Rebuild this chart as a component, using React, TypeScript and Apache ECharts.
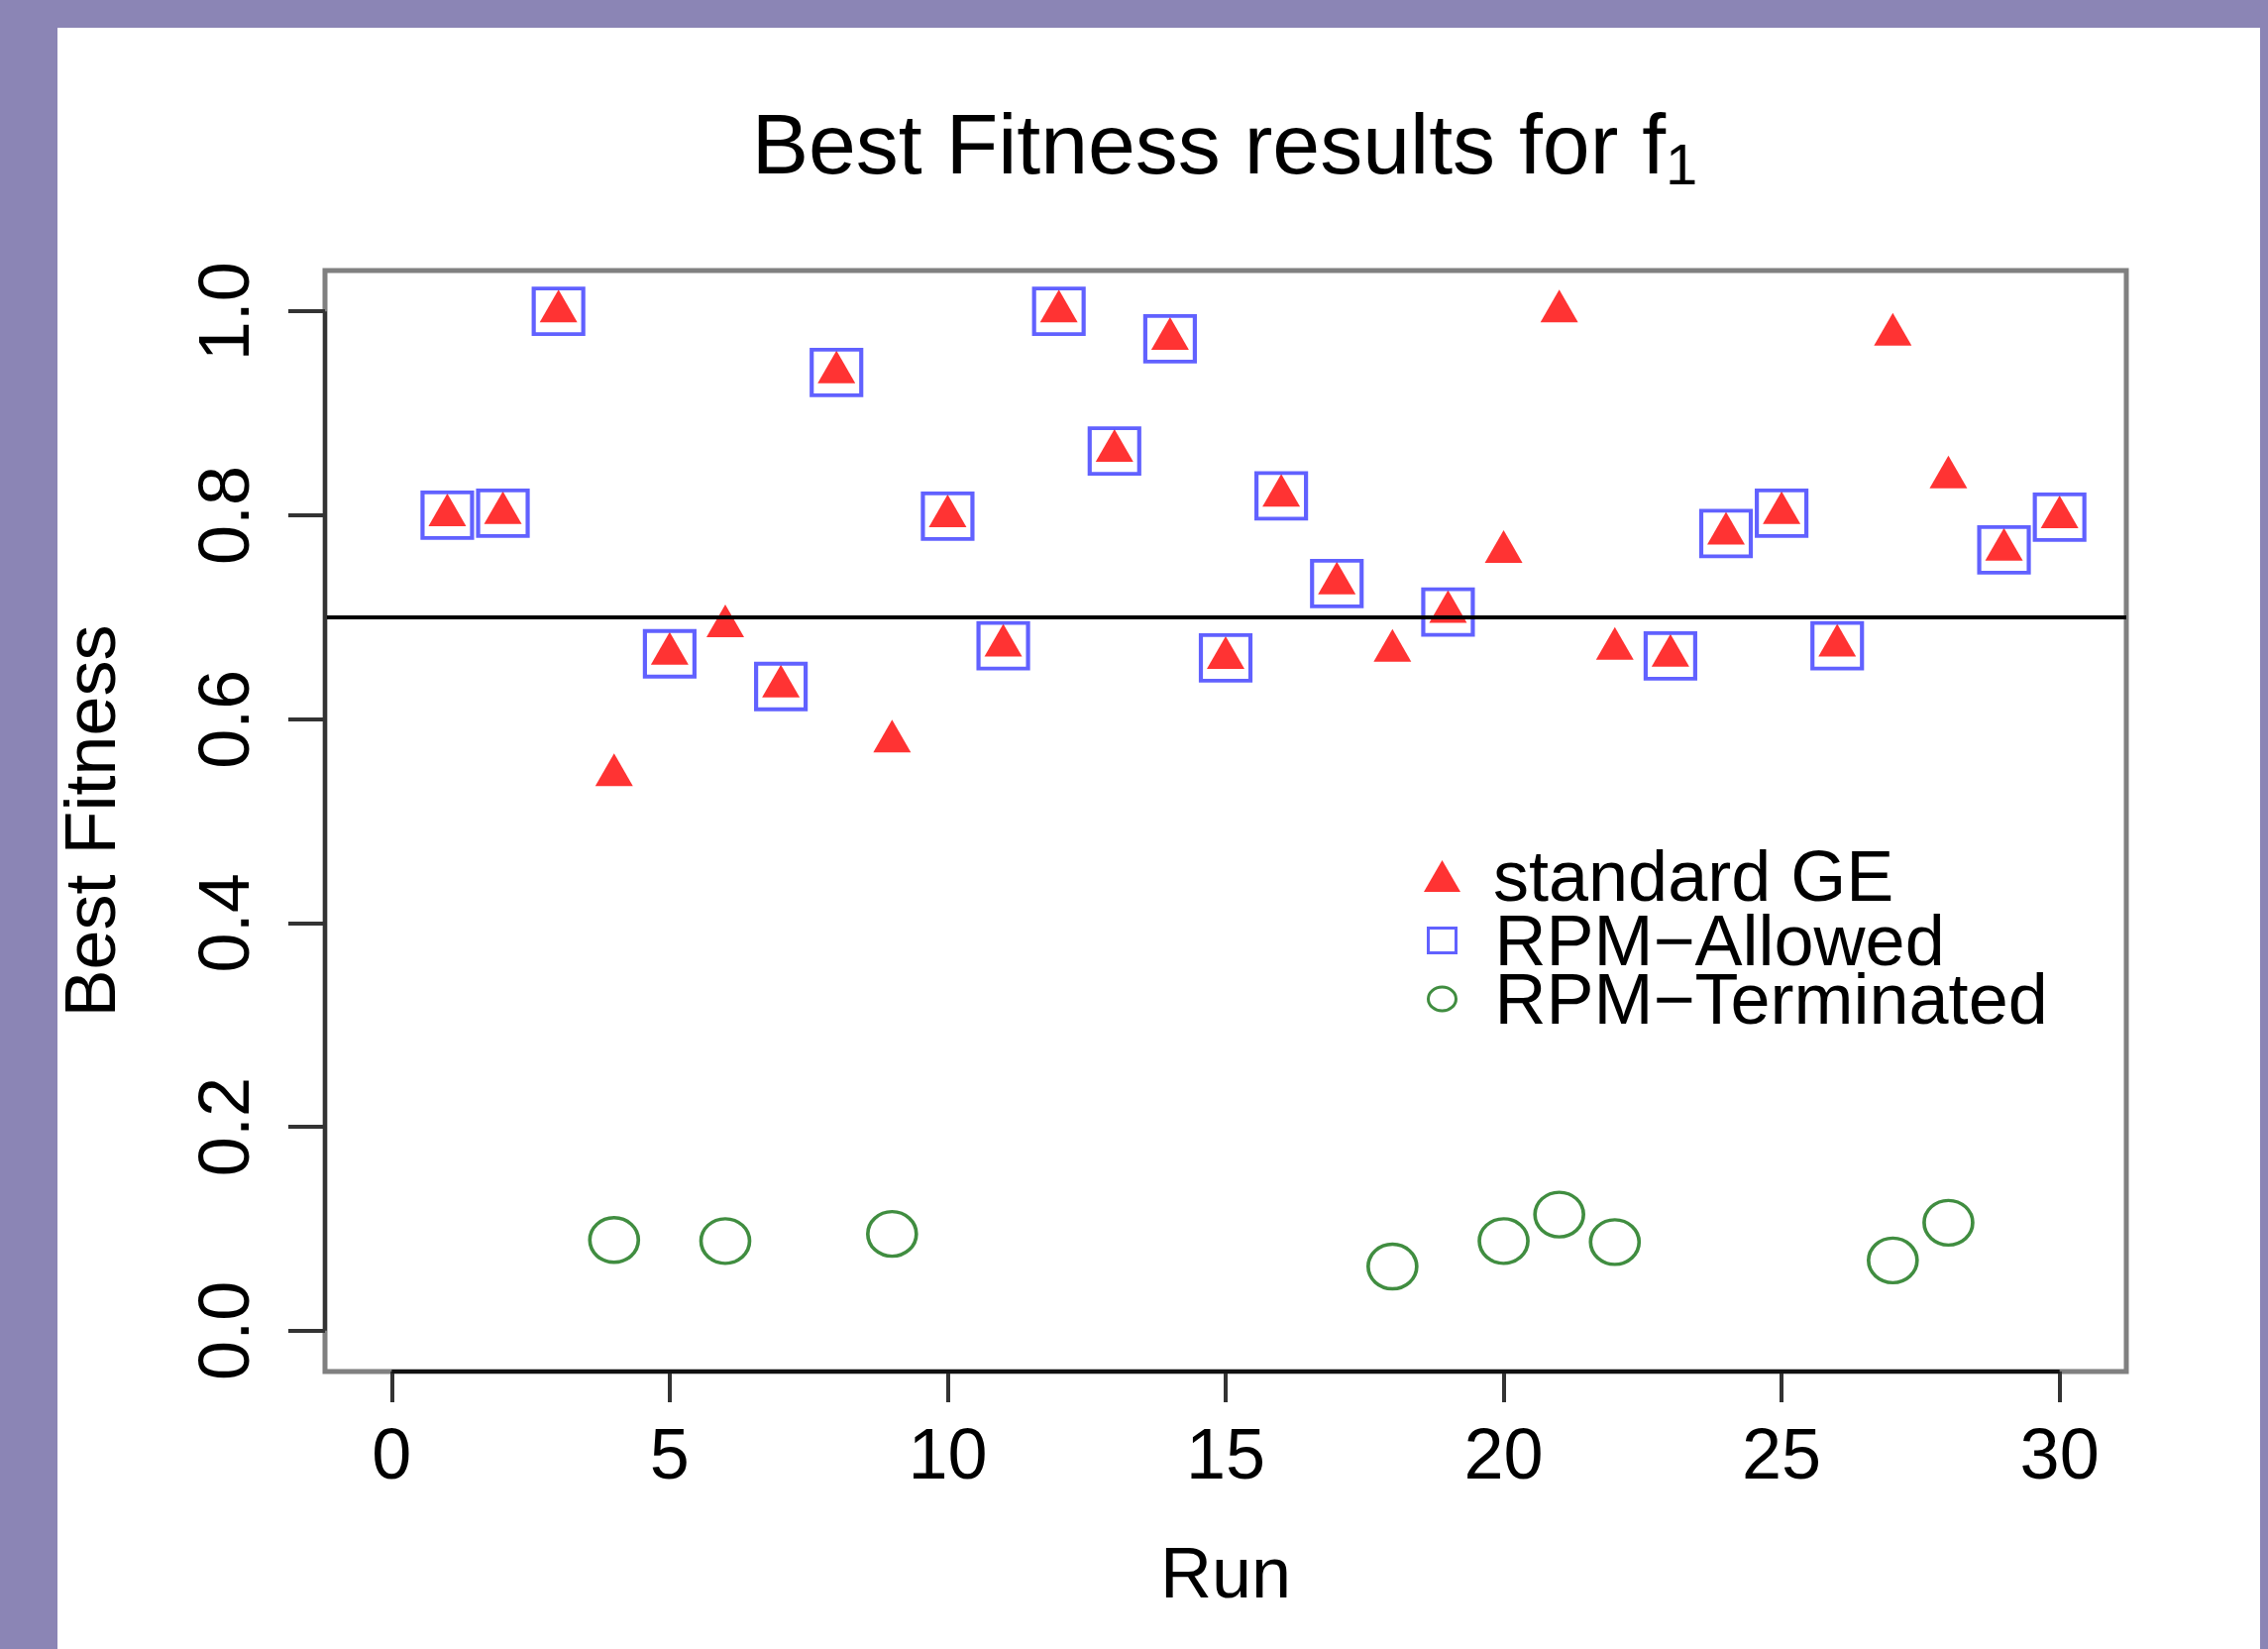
import React, { useEffect, useRef } from "react";
import * as echarts from "echarts";

// ---- data ----
const runs = [1, 2, 3, 4, 5, 6, 7, 8, 9, 10, 11, 12, 13, 14, 15, 16, 17, 18, 19, 20, 21, 22, 23, 24, 25, 26, 27, 28, 29, 30];
const standardGE = [0.8, 0.802, 1.0, 0.545, 0.664, 0.691, 0.632, 0.94, 0.578, 0.799, 0.672, 1.0, 0.863, 0.973, 0.66, 0.819, 0.733, 0.667, 0.705, 0.764, 1.0, 0.669, 0.662, 0.782, 0.802, 0.672, 0.977, 0.837, 0.766, 0.798];
const allowedRuns = [1, 2, 3, 5, 7, 8, 10, 11, 12, 13, 14, 15, 16, 17, 19, 23, 24, 25, 26, 29, 30];
const allowedValues = [0.8, 0.802, 1.0, 0.664, 0.632, 0.94, 0.799, 0.672, 1.0, 0.863, 0.973, 0.66, 0.819, 0.733, 0.705, 0.662, 0.782, 0.802, 0.672, 0.766, 0.798];
const terminatedRuns = [4, 6, 9, 18, 20, 21, 22, 27, 28];
const terminatedValues = [0.089, 0.088, 0.095, 0.063, 0.088, 0.114, 0.087, 0.069, 0.106];
const xTicks = [0, 5, 10, 15, 20, 25, 30];
const yTicks = [0, 0.2, 0.4, 0.6, 0.8, 1.0];
const threshold = 0.7;
const xRange = [-1.2, 31.2];
const yRange = [-0.04, 1.04];
const seriesNames = ["standard GE", "RPM\u2212Allowed", "RPM\u2212Terminated"];

const FONT = "'Liberation Sans', Arial, Helvetica, sans-serif";
const RED = "#ff0000";
const BLUE = "#3a3aff";
const GREEN = "#107010";
const ELLIPSE = "path://M0,22.5A24.5,22.5,0,1,1,49,22.5A24.5,22.5,0,1,1,0,22.5Z";

const zip = (xs: number[], ys: number[]) => xs.map((x, i) => [x, ys[i]]);

export default function App() {
  const ref = useRef<HTMLDivElement>(null);

  useEffect(() => {
    if (!ref.current) return;
    const chart = echarts.init(ref.current, undefined, { renderer: "svg" });

    const legendBase = {
      orient: "vertical",
      padding: 0,
      selectedMode: false,
      symbolKeepAspect: false,
      textStyle: { fontSize: 72, lineHeight: 60, color: "#000", fontFamily: FONT },
    };

    const option: any = {
      animation: false,
      backgroundColor: "#8B85B5",
      textStyle: { fontFamily: FONT },
      graphic: [
        {
          type: "rect",
          z: -10,
          silent: true,
          shape: { x: 58, y: 28, width: 2223, height: 1640 },
          style: { fill: "#ffffff" },
        },
      ],
      title: {
        text: "Best Fitness results for f{sub|1}",
        left: 1236,
        top: 94.5,
        textAlign: "center",
        padding: 0,
        textStyle: {
          fontSize: 86,
          lineHeight: 100,
          fontWeight: "normal",
          color: "#000",
          fontFamily: FONT,
          rich: {
            sub: { fontSize: 58, verticalAlign: "top", padding: [42, 0, 0, 0], color: "#000", fontFamily: FONT },
          },
        },
      },
      grid: {
        left: 328,
        right: 143,
        top: 273,
        bottom: 280,
        show: true,
        borderColor: "#808080",
        borderWidth: 5,
        backgroundColor: "transparent",
        containLabel: false,
        outerBoundsMode: "none",
      },
      xAxis: {
        type: "value",
        min: xRange[0],
        max: xRange[1],
        name: "Run",
        nameLocation: "middle",
        nameGap: 167,
        nameTextStyle: { fontSize: 72, color: "#000", fontFamily: FONT },
        axisLine: { show: false, onZero: false },
        splitLine: { show: false },
        axisTick: { show: true, inside: false, length: 31, lineStyle: { color: "#333", width: 4 }, customValues: xTicks },
        axisLabel: { customValues: xTicks, fontSize: 72, color: "#000", margin: 47, fontFamily: FONT },
      },
      yAxis: {
        type: "value",
        min: yRange[0],
        max: yRange[1],
        name: "Best Fitness",
        nameLocation: "middle",
        nameGap: 201,
        nameTextStyle: { fontSize: 72, color: "#000", fontFamily: FONT },
        axisLine: { show: false, onZero: false },
        splitLine: { show: false },
        axisTick: { show: true, inside: false, length: 37, lineStyle: { color: "#333", width: 4 }, customValues: yTicks },
        axisLabel: {
          customValues: yTicks,
          rotate: 90,
          fontSize: 72,
          color: "#000",
          margin: 66,
          fontFamily: FONT,
          formatter: (v: number) => v.toFixed(1),
        },
      },
      legend: [
        {
          ...legendBase,
          left: 1437,
          top: 848,
          itemWidth: 37,
          itemHeight: 32,
          data: [{ name: seriesNames[0], icon: "triangle", itemStyle: { color: RED, borderWidth: 0 } }],
          textStyle: { ...legendBase.textStyle, padding: [0, 0, 0, 28] },
        },
        {
          ...legendBase,
          left: 1440,
          top: 913,
          itemWidth: 28,
          itemHeight: 25,
          data: [{ name: seriesNames[1], icon: "rect", itemStyle: { color: "rgba(0,0,0,0)", borderColor: BLUE, borderWidth: 3 } }],
          textStyle: { ...legendBase.textStyle, padding: [0, 0, 0, 34] },
        },
        {
          ...legendBase,
          left: 1440,
          top: 972,
          itemWidth: 28,
          itemHeight: 24,
          data: [{ name: seriesNames[2], icon: ELLIPSE, itemStyle: { color: "rgba(0,0,0,0)", borderColor: GREEN, borderWidth: 3 } }],
          textStyle: { ...legendBase.textStyle, padding: [0, 0, 0, 34] },
        },
      ],
      series: [
        {
          name: seriesNames[0],
          type: "scatter",
          data: zip(runs, standardGE),
          symbol: "triangle",
          symbolSize: [38, 33],
          symbolOffset: [0, -5.5],
          itemStyle: { color: RED },
          z: 3,
          markLine: {
            silent: true,
            symbol: ["none", "none"],
            label: { show: false },
            lineStyle: { color: "#000", width: 4, type: "solid" },
            data: [{ yAxis: threshold }],
          },
        },
        {
          name: seriesNames[1],
          type: "scatter",
          data: zip(allowedRuns, allowedValues),
          symbol: "rect",
          symbolSize: [50, 46],
          itemStyle: { color: "rgba(0,0,0,0)", borderColor: BLUE, borderWidth: 4 },
          z: 4,
        },
        {
          name: seriesNames[2],
          type: "scatter",
          data: zip(terminatedRuns, terminatedValues),
          symbol: ELLIPSE,
          symbolKeepAspect: false,
          symbolSize: [49, 45],
          itemStyle: { color: "rgba(0,0,0,0)", borderColor: GREEN, borderWidth: 3.5 },
          z: 4,
        },
        {
          name: "x-axis-line",
          type: "line",
          data: [
            [xTicks[0], yRange[0]],
            [xTicks[xTicks.length - 1], yRange[0]],
          ],
          symbol: "none",
          silent: true,
          clip: false,
          lineStyle: { color: "#111", width: 4 },
          z: 5,
        },
        {
          name: "y-axis-line",
          type: "line",
          data: [
            [xRange[0], yTicks[0]],
            [xRange[0], yTicks[yTicks.length - 1]],
          ],
          symbol: "none",
          silent: true,
          clip: false,
          lineStyle: { color: "#333", width: 4 },
          z: 5,
        },
      ],
    };

    chart.setOption(option);
    return () => chart.dispose();
  }, []);

  return (
    <div
      ref={ref}
      style={{ position: "fixed", left: 0, top: 0, width: 2289, height: 1664 }}
    />
  );
}
